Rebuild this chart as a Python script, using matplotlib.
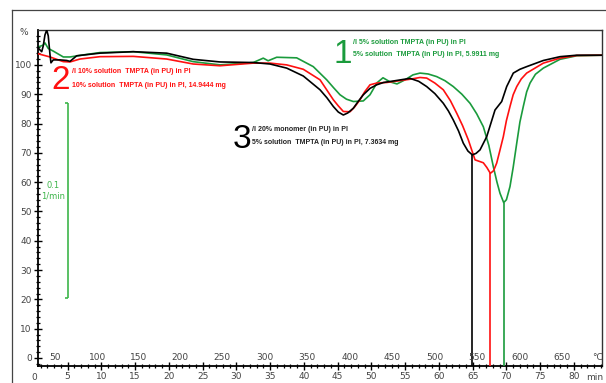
import matplotlib
matplotlib.use("Agg")
import matplotlib.pyplot as plt
from matplotlib.lines import Line2D
from matplotlib.ticker import MultipleLocator, FixedLocator
import matplotlib.transforms as mtransforms

# ---------------- data (time in min, mass in %) ----------------
black_t = [0.61, 1.16, 1.39, 1.64, 1.90, 2.13, 2.39, 2.53, 2.87, 3.87, 4.86, 5.35, 6.34, 9.79,
           14.73, 19.67, 23.6, 27.57, 32.5, 34.98, 37.45, 39.91, 42.39, 43.4, 44.36, 45.1,
           45.84, 46.5, 47.32, 48.0, 48.8, 49.8, 50.79, 51.8, 53.24, 55.72, 57.0, 58.19, 59.4,
           60.65, 61.4, 62.13, 62.9, 63.61, 64.3, 64.95, 65.5, 66.09, 67.08, 68.31, 69.3,
           70.04, 71.02, 72.0, 73.0, 75.47, 77.94, 80.41, 84.2]
black_v = [105.8, 104.5, 106.5, 110.2, 111.9, 109.9, 103.4, 100.7, 101.7, 101.7, 101.5, 101.2,
           103.1, 104.0, 104.5, 104.0, 101.9, 101.0, 100.8, 100.3, 98.9, 96.2, 91.5, 88.8,
           85.8, 83.9, 82.9, 83.6, 85.2, 87.4, 89.8, 92.0, 93.2, 94.0, 94.5, 95.4, 94.4, 92.6,
           90.2, 86.9, 84.3, 81.2, 77.5, 73.3, 70.6, 69.3, 69.8, 71.0, 75.5, 84.6, 87.5, 92.6,
           97.2, 98.5, 99.4, 101.5, 102.8, 103.3, 103.3]

red_t = [0.61, 2.39, 4.36, 5.35, 6.83, 9.79, 14.73, 19.67, 23.6, 27.57, 32.5, 34.98, 37.45,
         39.91, 42.39, 44.36, 45.1, 45.84, 46.83, 47.5, 48.31, 49.0, 49.79, 50.8, 52.27,
         55.72, 57.2, 58.19, 59.4, 60.65, 61.7, 62.64, 63.5, 64.36, 65.35, 66.09, 66.58, 67.1,
         67.62, 68.1, 68.56, 69.0, 69.54, 70.0, 70.53, 71.0, 71.53, 72.2, 73.0, 75.47, 77.94,
         80.41, 84.2]
red_v = [103.8, 102.7, 101.1, 101.0, 102.0, 102.8, 102.9, 102.0, 100.3, 99.7, 100.6, 100.6,
         100.0, 98.5, 94.9, 88.1, 86.0, 84.1, 84.0, 85.6, 88.1, 90.8, 93.2, 93.8, 94.0, 95.1,
         95.7, 95.5, 93.8, 91.5, 87.8, 83.5, 79.3, 74.4, 67.6, 67.0, 66.6, 65.0, 63.0, 63.9,
         66.5, 70.5, 75.5, 81.0, 85.8, 89.8, 92.6, 95.2, 97.2, 100.6, 102.3, 103.2, 103.3]

green_t = [0.61, 1.35, 1.64, 2.13, 2.87, 4.36, 5.35, 7.32, 9.79, 14.73, 19.67, 23.6, 27.57,
           32.5, 33.98, 34.7, 35.97, 38.93, 41.39, 43.38, 44.4, 45.35, 46.3, 47.32, 48.8,
           49.79, 50.83, 51.72, 52.76, 53.79, 54.98, 56.16, 57.2, 58.4, 59.67, 60.9, 62.13,
           63.4, 64.61, 65.6, 66.58, 67.4, 68.06, 68.6, 69.05, 69.6, 70.0, 70.53, 71.0, 71.53,
           72.0, 72.5, 73.0, 73.5, 74.3, 75.47, 77.94, 80.41, 84.2]
green_v = [106.1, 106.7, 107.5, 105.6, 104.7, 102.7, 102.7, 103.4, 104.2, 104.5, 103.4, 101.1,
           100.0, 100.8, 102.3, 101.4, 102.6, 102.4, 99.4, 94.9, 92.2, 89.8, 88.3, 87.5, 87.7,
           89.8, 93.9, 95.6, 94.2, 93.5, 94.9, 96.6, 97.2, 96.9, 96.0, 94.6, 92.6, 90.0, 86.9,
           83.3, 78.9, 72.5, 65.3, 60.0, 56.2, 53.0, 54.0, 58.5, 65.0, 73.3, 80.5, 85.8, 90.8,
           93.8, 96.8, 98.9, 101.9, 103.1, 103.3]

peak_t = [64.95, 67.62, 69.6]
peak_v = [69.3, 63.0, 53.0]

temp_labels = ["50", "100", "150", "200", "250", "300", "350", "400", "450", "500",
               "550", "600", "650"]
temp_pos = [3.1, 9.45, 15.47, 21.6, 27.8, 34.2, 40.4, 46.8, 53.0, 59.4, 65.6, 72.0, 78.2]

time_ticks = [5, 10, 15, 20, 25, 30, 35, 40, 45, 50, 55, 60, 65, 70, 75, 80]
pct_ticks = [0, 10, 20, 30, 40, 50, 60, 70, 80, 90, 100]

scale_t = 5.05
scale_v = [20.5, 87.0]

# ---------------- styling ----------------
GREEN = "#1a9b3c"
RED = "#ff1010"
BLACK = "#000000"
LGREEN = "#3db54a"
TICKC = "#444444"
FONT = ["Liberation Sans", "DejaVu Sans"]
AFS = 5.0

W, H = 606, 383
fig = plt.figure(figsize=(W / 100, H / 100), dpi=100)
ax = fig.add_axes([38 / W, 1 - 366 / H, (602 - 38) / W, (366 - 30) / H])

kw = dict(lw=1.2, solid_joinstyle="round", solid_capstyle="round")
ax.plot(red_t, red_v, color=RED, zorder=3, **kw)
ax.plot(black_t, black_v, color=BLACK, zorder=4, **kw)
ax.plot(green_t, green_v, color=GREEN, zorder=2, **kw)

ylo, yhi = -2.73, 111.9
for t, v, c in zip(peak_t, peak_v, [BLACK, RED, GREEN]):
    ax.vlines(t, ylo, v, color=c, lw=1.2, zorder=3)

ax.set_xlim(0.61, 84.16)
ax.set_ylim(ylo, yhi)

# ticks
ax.xaxis.set_major_locator(FixedLocator(time_ticks))
ax.xaxis.set_minor_locator(MultipleLocator(1))
ax.yaxis.set_major_locator(FixedLocator(pct_ticks))
ax.yaxis.set_minor_locator(MultipleLocator(2))
ax.tick_params(axis="both", which="major", direction="inout", length=6, width=1.0,
               colors=BLACK, labelcolor=TICKC, labelsize=6.5, pad=1.5)
ax.tick_params(axis="both", which="minor", direction="inout", length=3.5, width=0.9,
               colors=BLACK)

for s in ["left", "bottom"]:
    ax.spines[s].set_linewidth(1.3)
for s in ["top", "right"]:
    ax.spines[s].set_linewidth(1.0)
    ax.spines[s].set_color("#333333")

# extra axis texts
btr = mtransforms.blended_transform_factory(ax.transData, ax.transAxes)
ax.text(0.0, -0.033, "0", transform=btr, ha="center", va="center", fontsize=6.5,
        color=TICKC, clip_on=False)
ax.text(83.1, -0.033, "min", transform=btr, ha="center", va="center", fontsize=6.5,
        color=TICKC, clip_on=False)
for lab, pos in zip(temp_labels, temp_pos):
    ax.text(pos, 0.024, lab, transform=btr, ha="center", va="center", fontsize=6.5,
            color=TICKC)
ax.text(83.5, 0.024, "\u00b0C", transform=btr, ha="center", va="center", fontsize=6.5,
        color=TICKC)
ax.text(-0.018, 111.0, "%", transform=mtransforms.blended_transform_factory(ax.transAxes, ax.transData),
        ha="right", va="center", fontsize=6.5, color=TICKC, clip_on=False)

# scale bar
ax.vlines(scale_t, scale_v[0], scale_v[1], color=LGREEN, lw=1.2)
ax.hlines(scale_v, scale_t - 0.45, scale_t, color=LGREEN, lw=1.2)
ax.text(2.8, 57.0, "0.1\n1/min", ha="center", va="center", fontsize=6, color=LGREEN,
        linespacing=1.3)

# annotations
ax.text(45.7, 103.5, "1", color=GREEN, fontsize=24, family=FONT, ha="center", va="center")
ax.text(47.2, 107.6, "/I 5% solution TMPTA (in PU) in PI", color=GREEN, fontsize=AFS,
        family=FONT, weight="bold", ha="left", va="center")
ax.text(47.2, 103.6, "5% solution  TMPTA (in PU) in PI, 5.9911 mg", color=GREEN, fontsize=AFS,
        family=FONT, weight="bold", ha="left", va="center")

ax.text(3.9, 94.6, "2", color=RED, fontsize=24, family=FONT, ha="center", va="center")
ax.text(5.6, 97.6, "/I 10% solution  TMPTA (in PU) in PI", color=RED, fontsize=AFS,
        family=FONT, weight="bold", ha="left", va="center")
ax.text(5.6, 92.8, "10% solution  TMPTA (in PU) in PI, 14.9444 mg", color=RED, fontsize=AFS,
        family=FONT, weight="bold", ha="left", va="center")

ax.text(30.8, 74.6, "3", color=BLACK, fontsize=24, family=FONT, ha="center", va="center")
ax.text(32.3, 77.8, "/I 20% monomer (in PU) in PI", color="#222222", fontsize=AFS,
        family=FONT, weight="bold", ha="left", va="center")
ax.text(32.3, 73.5, "5% solution  TMPTA (in PU) in PI, 7.3634 mg", color="#222222", fontsize=AFS,
        family=FONT, weight="bold", ha="left", va="center")

# outer frame
x0 = 12 / W
y0 = 1 - 10 / H
fig.add_artist(Line2D([x0, x0], [0, y0], transform=fig.transFigure, color="#444444", lw=0.9))
fig.add_artist(Line2D([x0, 1], [y0, y0], transform=fig.transFigure, color="#444444", lw=0.9))

fig.savefig("out.png", dpi=100)
